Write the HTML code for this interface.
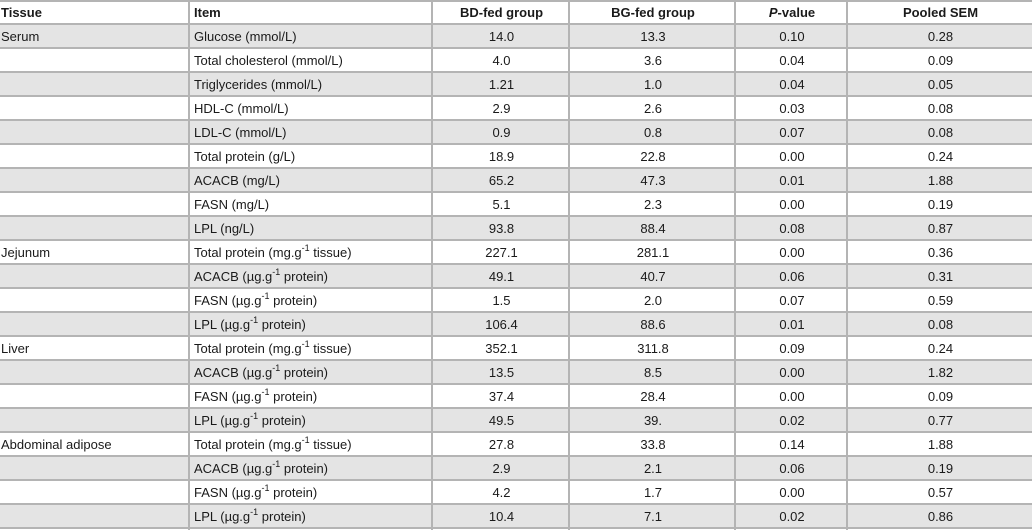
<!DOCTYPE html>
<html><head><meta charset="utf-8"><style>
html,body{margin:0;padding:0;background:#fff;}
body{width:1032px;height:530px;overflow:hidden;position:relative;font-family:"Liberation Sans",Arial,sans-serif;font-size:13px;color:#1a1a1a;}
.row{position:absolute;left:0;width:1032px;height:24px;}
.row.g{background:#e4e4e4;}
.hl{position:absolute;left:0;width:1032px;height:2px;background:#b4b4b4;}
.vl{position:absolute;top:0;width:2px;height:530px;background:#b4b4b4;}
.c{position:absolute;height:24px;line-height:24px;white-space:nowrap;}
.l{text-align:left;padding-left:3px;}
.m{text-align:center;}
.h{font-weight:bold;}
sup{font-size:9px;line-height:0;vertical-align:6px;}
</style></head><body>
<div id="t"></div>
<script>
const tissues=["Serum","","","","","","","","","Jejunum","","","","Liver","","","","Abdominal adipose","","",""];
const items=["Glucose (mmol/L)","Total cholesterol (mmol/L)","Triglycerides (mmol/L)","HDL-C (mmol/L)","LDL-C (mmol/L)","Total protein (g/L)","ACACB (mg/L)","FASN (mg/L)","LPL (ng/L)",
"Total protein (mg.g<sup>-1</sup> tissue)","ACACB (µg.g<sup>-1</sup> protein)","FASN (µg.g<sup>-1</sup> protein)","LPL (µg.g<sup>-1</sup> protein)",
"Total protein (mg.g<sup>-1</sup> tissue)","ACACB (µg.g<sup>-1</sup> protein)","FASN (µg.g<sup>-1</sup> protein)","LPL (µg.g<sup>-1</sup> protein)",
"Total protein (mg.g<sup>-1</sup> tissue)","ACACB (µg.g<sup>-1</sup> protein)","FASN (µg.g<sup>-1</sup> protein)","LPL (µg.g<sup>-1</sup> protein)"];
const bd=["14.0","4.0","1.21","2.9","0.9","18.9","65.2","5.1","93.8","227.1","49.1","1.5","106.4","352.1","13.5","37.4","49.5","27.8","2.9","4.2","10.4"];
const bg=["13.3","3.6","1.0","2.6","0.8","22.8","47.3","2.3","88.4","281.1","40.7","2.0","88.6","311.8","8.5","28.4","39.","33.8","2.1","1.7","7.1"];
const pv=["0.10","0.04","0.04","0.03","0.07","0.00","0.01","0.00","0.08","0.00","0.06","0.07","0.01","0.09","0.00","0.00","0.02","0.14","0.06","0.00","0.02"];
const sem=["0.28","0.09","0.05","0.08","0.08","0.24","1.88","0.19","0.87","0.36","0.31","0.59","0.08","0.24","1.82","0.09","0.77","1.88","0.19","0.57","0.86"];
const cols=[[0,189],[189,432],[432,569],[569,735],[735,847],[847,1032]];
const t=document.getElementById('t');
function cell(x,y,w,html,cls,name,first){
 const d=document.createElement('div');
 
 
 d.className='c '+cls;
 const off=first?0:2;
 d.style.left=(x+off)+'px';d.style.top=y+'px';d.style.width=(w-2-(cls.includes('l')?3:0))+'px';
 if(first){d.style.paddingLeft='1px';}
 d.innerHTML=html;t.appendChild(d);
}
const heads=["Tissue","Item","BD-fed group","BG-fed group","<i>P</i>-value","Pooled SEM"];
heads.forEach((h,i)=>cell(cols[i][0],1,cols[i][1]-cols[i][0],h,'h '+(i<2?'l':'m'),'header-'+i,i==0));
for(let r=0;r<21;r++){
 const y=24+r*24;
 const row=document.createElement('div');
 
 
 row.className='row'+(r%2==0?' g':'');row.style.top=y+'px';t.appendChild(row);
 const vals=[tissues[r],items[r],bd[r],bg[r],pv[r],sem[r]];
 vals.forEach((v,i)=>cell(cols[i][0],y+1,cols[i][1]-cols[i][0],v,i<2?'l':'m','cell',i==0));
}
for(let r=0;r<=22;r++){
 const l=document.createElement('div');
 
 
 l.className='hl';l.style.top=(r==0?0:(r*24-1))+'px';t.appendChild(l);
}
[189,432,569,735,847].forEach(x=>{
 const v=document.createElement('div');
 
 
 v.className='vl';v.style.left=(x-1)+'px';t.appendChild(v);
});
</script>
</body></html>
